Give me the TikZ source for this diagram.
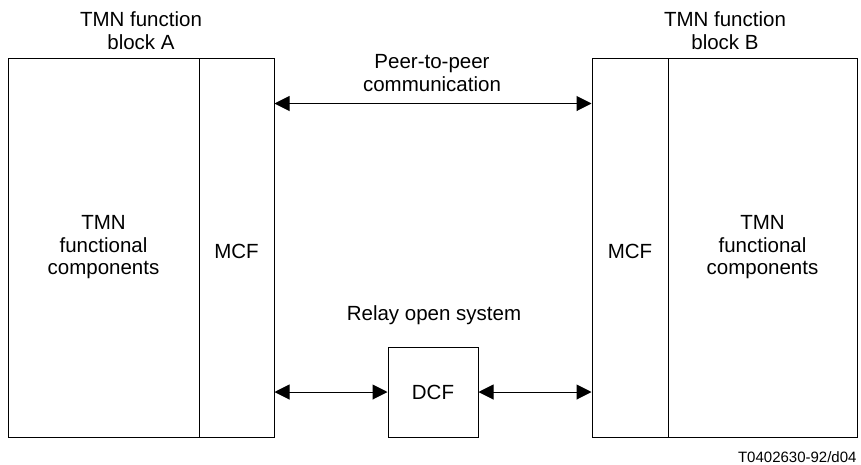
\documentclass[tikz,border=0pt]{standalone}
\usepackage{fontspec}
\setmainfont{Liberation Sans}
\usetikzlibrary{arrows.meta}

\begin{document}
\begin{tikzpicture}[x=1pt,y=-1pt,line width=1pt,
    every node/.style={font=\fontsize{20.5}{22.5}\selectfont},
    part/.style={draw,rectangle,inner sep=0pt,minimum height=379pt},
    title/.style={align=center,inner sep=0pt},
    link/.style={{Triangle[length=15pt,width=15pt]}-{Triangle[length=15pt,width=15pt]}}]
      \useasboundingbox (0,0) rectangle (861,464);

      % function block A
      \node (compA) [part, minimum width=191pt, align=center] at (103.5,247.5) {TMN\\functional\\components};
      \node (mcfA)  [part, minimum width=75pt, text height=23pt] at (236.5,247.5) {MCF};

      % function block B
      \node (mcfB)  [part, minimum width=76pt, text height=23pt] at (630,247.5) {MCF};
      \node (compB) [part, minimum width=189pt, align=center] at (762.5,247.5) {TMN\\functional\\components};

      % relay open system
      \node (dcf) [draw, minimum size=90pt, inner sep=0pt] at (433,392) {DCF};

      % titles
      \node (titleA) [title, anchor=south] at (141,50)  {TMN function\\block A};
      \node (titleB) [title, anchor=south] at (725,50)  {TMN function\\block B};
      \node (peer)   [title, anchor=south] at (432,92)  {Peer-to-peer\\communication};
      \node (relay)  [anchor=base, inner sep=0pt] at (434,320) {Relay open system};
      \node (tag)    [anchor=base east, inner sep=0pt, font=\fontsize{15}{18}\selectfont] at (857,462) {T0402630-92/d04};

      % communication paths
      \coordinate (pA) at ([yshift=-46pt]mcfA.north east);
      \coordinate (pB) at ([yshift=-46pt]mcfB.north west);

      \path [link] (pA) edge (pB);
      \path [link] (mcfA.east |- dcf.west) edge (dcf.west);
      \path [link] (dcf.east) edge (mcfB.west |- dcf.east);
\end{tikzpicture}
\end{document}
